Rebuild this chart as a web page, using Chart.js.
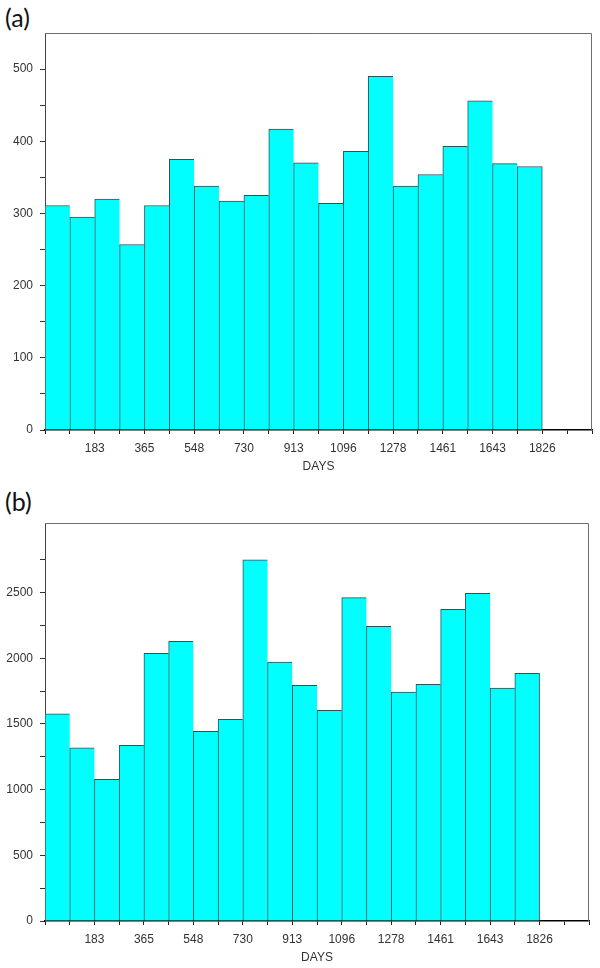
<html>
<head>
	<title>Histograms of counts by days</title>
	<script src="https://cdn.jsdelivr.net/npm/chart.js@4.4.0/dist/chart.umd.min.js"></script>
	<style>
		body { margin: 0; background: #fff; }
		.wrap { position: relative; width: 600px; height: 968px; }
		canvas { position: absolute; left: 0; }
		.panel { position: absolute; left: 5px; font-family: Lato, 'Open Sans', sans-serif; font-size: 25px; line-height: 25px; color: #111; }
	</style>
</head>
<body>
	<div class="wrap">
		<div class="panel" style="top: 5px;">(a)</div>
		<div class="panel" style="top: 489px;">(b)</div>
		<canvas id="chartA" width="600" height="480" style="top: 0;"></canvas>
		<canvas id="chartB" width="600" height="484" style="top: 484px;"></canvas>
	</div>
	<script>
		// labels under every second bin edge (bins are ~91.3 days wide)
		const dayTicks = ['183', '365', '548', '730', '913', '1096', '1278', '1461', '1643', '1826'];
		const binCount = 22; // axis runs two empty bins past the last bar

		const countsA = [311, 295, 320, 257, 311, 375, 338, 317, 325, 417, 370, 314, 386, 490, 338, 354, 393, 456, 369, 365];
		const countsB = [1578, 1319, 1078, 1337, 2038, 2130, 1444, 1535, 2749, 1972, 1794, 1604, 2462, 2244, 1743, 1802, 2373, 2495, 1774, 1886];

		// box lines on top and right of the plot area
		const frame = {
			id: 'frame',
			afterDatasetsDraw(chart) {
				const { ctx, chartArea: a } = chart;
				ctx.save();
				ctx.strokeStyle = '#6e6e6e';
				ctx.lineWidth = 1;
				ctx.beginPath();
				ctx.moveTo(a.left, a.top + 0.5);
				ctx.lineTo(a.right - 0.5, a.top + 0.5);
				ctx.lineTo(a.right - 0.5, a.bottom);
				ctx.stroke();
				ctx.restore();
			}
		};

		const tickFont = { family: "'Liberation Sans', Arial, sans-serif", size: 12 };

		function makeChart(id, counts, opts) {
			const last = counts.length - 1;
			return new Chart(document.getElementById(id), {
				type: 'bar',
				data: {
					datasets: [{
						data: counts.map((c, i) => ({ x: i + 0.5, y: c })),
						backgroundColor: '#00ffff',
						borderColor: '#265656',
						borderWidth: (ctx) => ({ top: 1, left: 1, bottom: 0, right: ctx.dataIndex === last ? 1 : 0 }),
						borderSkipped: false,
						barPercentage: 1,
						categoryPercentage: 1,
					}],
				},
				options: {
					responsive: false,
					animation: false,
					layout: { padding: { top: opts.top, right: opts.right, left: 0, bottom: 0 } },
					plugins: { legend: { display: false }, tooltip: { enabled: false } },
					scales: {
						x: {
							type: 'linear',
							min: 0,
							max: binCount,
							offset: false,
							afterFit: (s) => { s.height = opts.xHeight; },
							afterBuildTicks: (s) => {
								s.ticks = [];
								for (let v = 0; v <= binCount; v++) s.ticks.push({ value: v });
							},
							grid: { offset: false, drawOnChartArea: false, tickLength: 4, color: '#222' },
							border: { color: '#000', width: 1.5 },
							ticks: {
								autoSkip: false,
								maxRotation: 0,
								padding: 7,
								color: '#333',
								font: tickFont,
								callback: (v) => (v % 2 === 0 && v >= 2 && v <= 20 ? dayTicks[v / 2 - 1] : ''),
							},
							title: {
								display: true,
								text: 'DAYS',
								color: '#333',
								font: tickFont,
								padding: { top: 0, bottom: opts.titlePad },
							},
						},
						y: {
							min: 0,
							max: opts.yMax,
							afterFit: (s) => { s.width = 45; },
							afterBuildTicks: (s) => {
								s.ticks = [];
								for (let v = 0; v <= opts.tickTop; v += opts.minor) s.ticks.push({ value: v });
							},
							grid: { drawOnChartArea: false, tickLength: 5, color: '#333' },
							border: { color: '#444' },
							ticks: {
								autoSkip: false,
								padding: 7,
								color: '#333',
								font: tickFont,
								callback: (v) => (v % opts.major === 0 ? v : ''),
							},
						},
					},
				},
				plugins: [frame],
			});
		}

		makeChart('chartA', countsA, { yMax: 550, tickTop: 500, minor: 50, major: 100, top: 33, right: 8, xHeight: 50, titlePad: 6 });
		makeChart('chartB', countsB, { yMax: 3030, tickTop: 2750, minor: 250, major: 500, top: 39, right: 11, xHeight: 47, titlePad: 3 });
	</script>
</body>
</html>
